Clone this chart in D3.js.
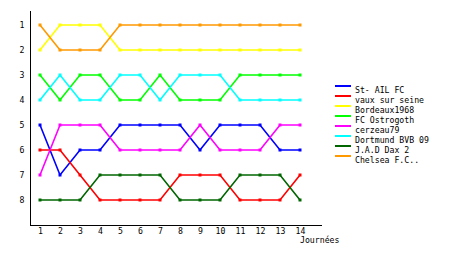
<!DOCTYPE html>
<html><head><meta charset="utf-8">
<script src="https://cdn.jsdelivr.net/npm/d3@7"></script>
<style>
body{margin:0;background:#fff;}
svg{display:block;}
text{font-family:"DejaVu Sans Mono","Liberation Mono",monospace;font-size:8.2px;fill:#000;}
</style></head><body>
<svg id="c" width="460" height="255"></svg>
<script>
const days = [1,2,3,4,5,6,7,8,9,10,11,12,13,14];
const teams = ["St- AIL FC","vaux sur seine","Bordeaux1968","FC Ostrogoth","cerzeau79","Dortmund BVB 09","J.A.D Dax 2","Chelsea F.C.."];
const colors = ["#0000ff","#ff0000","#ffff00","#00ff00","#ff00ff","#00ffff","#006600","#ff9900"];
const stAil     = [5,7,6,6,5,5,5,5,6,5,5,5,6,6];
const vaux      = [6,6,7,8,8,8,8,7,7,7,8,8,8,7];
const bordeaux  = [2,1,1,1,2,2,2,2,2,2,2,2,2,2];
const ostrogoth = [3,4,3,3,4,4,3,4,4,4,3,3,3,3];
const cerzeau   = [7,5,5,5,6,6,6,6,5,6,6,6,5,5];
const dortmund  = [4,3,4,4,3,3,4,3,3,3,4,4,4,4];
const jad       = [8,8,8,7,7,7,7,8,8,8,7,7,7,8];
const chelsea   = [1,2,2,2,1,1,1,1,1,1,1,1,1,1];
const rankTicks = [1,2,3,4,5,6,7,8];
const xTitle = "Journées";

const series = [stAil,vaux,bordeaux,ostrogoth,cerzeau,dortmund,jad,chelsea];
const svg = d3.select("#c");
const x = d3.scaleLinear().domain([0.5,15.05]).range([30,321]);
const y = d3.scaleLinear().domain([0.4,9]).range([10,225]);

// axes
const gx = svg.append("g").attr("transform","translate(0,225)")
  .call(d3.axisBottom(x).tickValues(days).tickSize(0).tickPadding(3).tickSizeOuter(0));
const gy = svg.append("g").attr("transform","translate(30,0)")
  .call(d3.axisLeft(y).tickValues(rankTicks).tickSize(0).tickPadding(6).tickSizeOuter(0));
[gx,gy].forEach(g=>{
  g.select(".domain").attr("stroke","#000").attr("stroke-width",1).attr("shape-rendering","crispEdges");
  g.selectAll("text").attr("font-family",null).attr("font-size",null);
});
gy.selectAll("text").attr("text-anchor","middle").attr("x",-8);

svg.append("text").attr("x",300).attr("y",243).text(xTitle);

const line = d3.line().x((d,i)=>x(days[i])).y(d=>y(d));
series.forEach((s,k)=>{
  svg.append("path").datum(s).attr("d",line).attr("fill","none")
    .attr("stroke",colors[k]).attr("stroke-width",1.6);
  svg.append("g").selectAll("rect").data(s).join("rect")
    .attr("x",(d,i)=>x(days[i])-1.5).attr("y",d=>y(d)-1.5)
    .attr("width",3).attr("height",3).attr("fill",colors[k]);
});

// legend
const lg = svg.append("g");
teams.forEach((t,i)=>{
  const yy = 86 + 10*i;
  lg.append("line").attr("x1",335).attr("x2",351).attr("y1",yy).attr("y2",yy)
    .attr("stroke",colors[i]).attr("stroke-width",2).attr("shape-rendering","crispEdges");
  lg.append("text").attr("x",355).attr("y",yy+6.5).text(t);
});
</script></body></html>
